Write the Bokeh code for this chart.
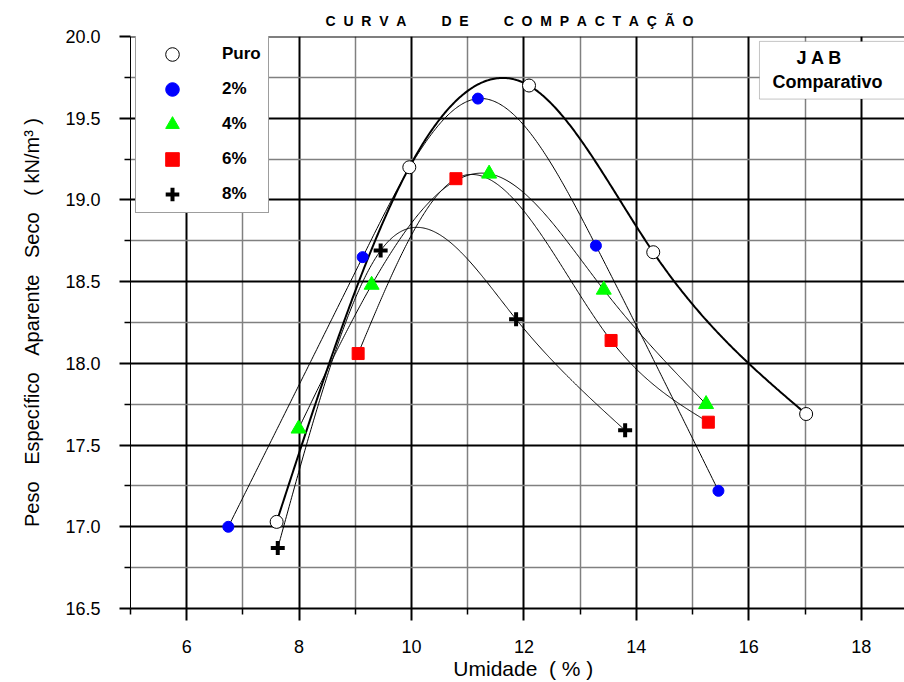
import numpy as np
from bokeh.plotting import figure
from bokeh.models import (Range1d, FixedTicker, Legend, LegendItem, Span,
                          BoxAnnotation, Label)
from bokeh.embed import file_html
from bokeh.resources import INLINE

FONT = "Liberation Sans"
NB = "\u00a0"  # non-breaking space, so the wide spacing of the texts is kept

# ---- texts ----
title_text = (NB * 2).join("CURVA") + NB * 9 + (NB * 2).join("DE") + NB * 9 + (NB * 2).join("COMPACTAÇÃO")
x_label = NB * 2 + "Umidade" + NB * 2 + "(" + NB + "%" + NB + ")"
y_label = (NB * 3).join(["Peso", "Específico", "Aparente", "Seco", "(" + NB + "kN/m³" + NB + ")"])
box_line1 = "J A B"
box_line2 = "Comparativo"

# ---- data ----
series_names = ["Puro", "2%", "4%", "6%", "8%"]
puro_x = [7.60, 9.96, 12.09, 14.30, 17.02]
puro_y = [17.03, 19.20, 19.70, 18.68, 17.69]
p2_x = [6.74, 9.13, 11.18, 13.28, 15.46]
p2_y = [17.00, 18.65, 19.62, 18.72, 17.22]
p4_x = [7.99, 9.29, 11.38, 13.42, 15.24]
p4_y = [17.60, 18.48, 19.16, 18.45, 17.75]
p6_x = [9.05, 10.79, 13.55, 15.28]
p6_y = [18.06, 19.13, 18.14, 17.64]
p8_x = [7.62, 9.45, 11.86, 13.80]
p8_y = [16.87, 18.69, 18.27, 17.59]

x_ticks = [6, 8, 10, 12, 14, 16, 18]
x_minor_ticks = [5, 7, 9, 11, 13, 15, 17]
y_ticks = [16.5, 17.0, 17.5, 18.0, 18.5, 19.0, 19.5, 20.0]
y_tick_labels = ["16.5", "17.0", "17.5", "18.0", "18.5", "19.0", "19.5", "20.0"]
y_minor_ticks = [16.75, 17.25, 17.75, 18.25, 18.75, 19.25, 19.75]

xs_all = [puro_x, p2_x, p4_x, p6_x, p8_x]
ys_all = [puro_y, p2_y, p4_y, p6_y, p8_y]

# ---- styles ----
marker_styles = [
    dict(marker="circle", size=13, fill_color="white", line_color="black", line_width=1),
    dict(marker="circle", size=11, fill_color="#0000ff", line_color="#0000ff", line_width=1),
    dict(marker="triangle", size=15, fill_color="#00ff00", line_color="#00ff00", line_width=1),
    dict(marker="square", size=12, fill_color="#ff0000", line_color="#ff0000", line_width=1),
    dict(marker="cross", size=14, line_color="black", line_width=4),
]
curve_widths = [2, 1, 1, 1, 1]


def natural_spline(x, y, xf):
    """Natural cubic spline through the measured points (smooth compaction curve)."""
    x = np.asarray(x, float)
    y = np.asarray(y, float)
    n = len(x)
    h = np.diff(x)
    A = np.zeros((n, n))
    r = np.zeros(n)
    A[0, 0] = 1.0
    A[-1, -1] = 1.0
    for i in range(1, n - 1):
        A[i, i - 1] = h[i - 1]
        A[i, i] = 2 * (h[i - 1] + h[i])
        A[i, i + 1] = h[i]
        r[i] = 6 * ((y[i + 1] - y[i]) / h[i] - (y[i] - y[i - 1]) / h[i - 1])
    M = np.linalg.solve(A, r)
    idx = np.clip(np.searchsorted(x, xf) - 1, 0, n - 2)
    x0, x1 = x[idx], x[idx + 1]
    hh = x1 - x0
    return (M[idx] * (x1 - xf) ** 3 / (6 * hh) + M[idx + 1] * (xf - x0) ** 3 / (6 * hh)
            + (y[idx] / hh - M[idx] * hh / 6) * (x1 - xf)
            + (y[idx + 1] / hh - M[idx + 1] * hh / 6) * (xf - x0))


p = figure(width=904, height=682, output_backend="svg", toolbar_location=None,
           x_range=Range1d(5, 18.77), y_range=Range1d(16.5, 20.0),
           min_border_left=130, min_border_right=0, min_border_top=36,
           min_border_bottom=71)
p.outline_line_color = None
p.background_fill_color = "white"
p.border_fill_color = "white"

# title
p.title.text = title_text
p.title.text_font = FONT
p.title.text_font_size = "14px"
p.title.text_font_style = "bold"
p.title.text_color = "black"
p.title.align = "left"
p.title.offset = 195
p.title.standoff = 16

# axes
xa = p.xaxis[0]
xa.ticker = FixedTicker(ticks=x_ticks, minor_ticks=x_minor_ticks)
xa.axis_label = x_label
xa.axis_label_text_font = FONT
xa.axis_label_text_font_size = "21px"
xa.axis_label_text_font_style = "normal"
xa.axis_label_text_color = "black"
xa.axis_label_standoff = 1
xa.major_label_text_font = FONT
xa.major_label_text_font_size = "18px"
xa.major_label_text_color = "black"
xa.major_label_standoff = 19
xa.major_tick_out = 12
xa.major_tick_in = 0
xa.minor_tick_out = 6
xa.minor_tick_in = 0
xa.major_tick_line_width = 2
xa.minor_tick_line_width = 1.5
xa.axis_line_width = 2
xa.axis_line_color = "black"

ya = p.yaxis[0]
ya.ticker = FixedTicker(ticks=y_ticks, minor_ticks=y_minor_ticks)
ya.major_label_overrides = {t: l for t, l in zip(y_ticks, y_tick_labels)}
ya.axis_label = y_label
ya.axis_label_text_font = FONT
ya.axis_label_text_font_size = "20px"
ya.axis_label_text_font_style = "normal"
ya.axis_label_text_color = "black"
ya.axis_label_standoff = 19
ya.major_label_text_font = FONT
ya.major_label_text_font_size = "18px"
ya.major_label_text_color = "black"
ya.major_label_standoff = 19
ya.major_tick_out = 11
ya.major_tick_in = 0
ya.minor_tick_out = 6
ya.minor_tick_in = 0
ya.major_tick_line_width = 2
ya.minor_tick_line_width = 1.5
ya.axis_line_width = 1
ya.axis_line_color = "black"

# grids
for g in (p.xgrid[0], p.ygrid[0]):
    g.grid_line_color = "black"
    g.grid_line_width = 2
    g.grid_line_alpha = 1
    g.minor_grid_line_color = "#808080"
    g.minor_grid_line_width = 1.5

p.add_layout(Span(location=y_ticks[-1], dimension="width", line_color="black", line_width=2))

# smooth curves through each series
for xs, ys, lw in zip(xs_all, ys_all, curve_widths):
    xf = np.linspace(min(xs), max(xs), 400)
    p.line(xf, natural_spline(xs, ys, xf), line_color="black", line_width=lw)

# markers
items = []
for name, xs, ys, st in zip(series_names, xs_all, ys_all, marker_styles):
    r = p.scatter(xs, ys, **st)
    items.append(LegendItem(label=name, renderers=[r]))

legend = Legend(items=items, location=(5, 395), glyph_width=70, glyph_height=34,
                spacing=1, padding=1, label_standoff=15, label_width=45,
                label_text_font=FONT, label_text_font_size="17px",
                label_text_font_style="bold", label_text_color="black",
                border_line_color="#3c3c3c",
                border_line_width=1, background_fill_color="white",
                background_fill_alpha=1)
p.add_layout(legend, "center")

# JAB box
p.add_layout(BoxAnnotation(left=16.19, right=19.5, top=19.97, bottom=19.617,
                           fill_color="white", fill_alpha=1, line_color="#3c3c3c",
                           line_width=1, level="overlay"))
p.add_layout(Label(x=17.26, y=19.866, text=box_line1, text_align="center",
                   text_baseline="middle", text_font=FONT, text_font_size="18px",
                   text_font_style="bold", text_color="black", level="overlay"))
p.add_layout(Label(x=17.40, y=19.72, text=box_line2, text_align="center",
                   text_baseline="middle", text_font=FONT, text_font_size="18px",
                   text_font_style="bold", text_color="black", level="overlay"))

open("out.html", "w").write(file_html(p, INLINE))
